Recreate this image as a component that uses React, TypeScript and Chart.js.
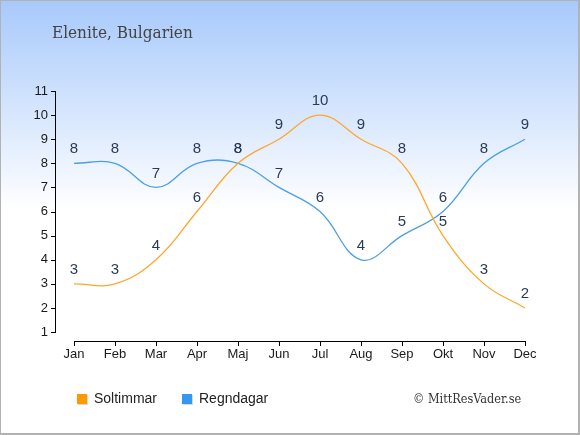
import { useEffect, useRef } from 'react';
import { Chart, registerables } from 'chart.js';

Chart.register(...registerables);

const months = ['Jan', 'Feb', 'Mar', 'Apr', 'Maj', 'Jun', 'Jul', 'Aug', 'Sep', 'Okt', 'Nov', 'Dec'];
const sunHours = [3, 3, 4, 6, 8, 9, 10, 9, 8, 5, 3, 2];
const rainDays = [8, 8, 7, 8, 8, 7, 6, 4, 5, 6, 8, 9];
const yTicks = [1, 2, 3, 4, 5, 6, 7, 8, 9, 10, 11];
const seriesNames = ['Soltimmar', 'Regndagar'];
const title = 'Elenite, Bulgarien';
const credit = '© MittResVader.se';

const SUN_LINE = '#ffa62b';
const RAIN_LINE = '#4a9fe6';
const SUN_BOX = '#ff9900';
const RAIN_BOX = '#3399ee';
const LABEL = '#2b3a55';
const SANS = 'Arial, "Liberation Sans", sans-serif';

const decor = {
  id: 'decor',
  beforeDraw(chart: Chart) {
    const { ctx, width, height } = chart;
    ctx.save();
    const g = ctx.createLinearGradient(0, 0, 0, 210);
    g.addColorStop(0, '#a7c9fb');
    g.addColorStop(1, '#ffffff');
    ctx.fillStyle = g;
    ctx.fillRect(0, 0, width, height);

    // frame
    ctx.strokeStyle = '#b2b2b2';
    ctx.lineWidth = 1;
    ctx.strokeRect(0.5, 0.5, width - 1, height - 1);
    ctx.fillStyle = '#b2b2b2';
    ctx.fillRect(width - 2, 0, 2, height);
    ctx.fillRect(0, height - 2, width, 2);

    // title
    ctx.fillStyle = '#444';
    ctx.font = "17px 'DejaVu Serif', serif";
    (ctx as any).fontStretch = 'condensed';
    ctx.textAlign = 'left';
    ctx.textBaseline = 'alphabetic';
    ctx.fillText(title, 52, 38);

    // credit
    ctx.fillStyle = '#333';
    ctx.font = "12.6px 'DejaVu Serif', serif";
    (ctx as any).fontStretch = 'condensed';
    ctx.fillText(credit, 413, 403);
    (ctx as any).fontStretch = 'normal';

    // legend
    const items = [
      { name: seriesNames[0], color: SUN_BOX, x: 77 },
      { name: seriesNames[1], color: RAIN_BOX, x: 182 },
    ];
    ctx.font = `14px ${SANS}`;
    ctx.textBaseline = 'middle';
    items.forEach(it => {
      ctx.fillStyle = '#d8d8d8';
      ctx.fillRect(it.x + 1, 395, 10, 10);
      ctx.fillStyle = it.color;
      ctx.fillRect(it.x, 394, 10, 10);
      ctx.fillStyle = '#222';
      ctx.fillText(it.name, it.x + 17, 399);
    });

    // y axis line with ticks
    const y = chart.scales.y;
    const top = Math.round(y.getPixelForValue(yTicks[yTicks.length - 1]));
    const bottom = Math.round(y.getPixelForValue(yTicks[0]));
    ctx.strokeStyle = '#000';
    ctx.lineWidth = 1;
    ctx.beginPath();
    ctx.moveTo(55.5, top);
    ctx.lineTo(55.5, bottom + 0.5);
    yTicks.forEach(v => {
      const py = Math.round(y.getPixelForValue(v)) + 0.5;
      ctx.moveTo(51, py);
      ctx.lineTo(56, py);
    });
    ctx.stroke();
    ctx.restore();
  },
  afterDatasetsDraw(chart: Chart) {
    const { ctx } = chart;
    ctx.save();
    ctx.font = `15px ${SANS}`;
    ctx.fillStyle = LABEL;
    ctx.textAlign = 'center';
    ctx.textBaseline = 'middle';
    chart.data.datasets.forEach((ds, i) => {
      const meta = chart.getDatasetMeta(i);
      meta.data.forEach((pt, j) => {
        ctx.fillText(String(ds.data[j]), pt.x, pt.y - 14);
      });
    });
    ctx.restore();
  },
};

export default function App() {
  const canvasRef = useRef<HTMLCanvasElement>(null);
  const chartRef = useRef<Chart | null>(null);

  useEffect(() => {
    if (!canvasRef.current) return;
    chartRef.current?.destroy();

    chartRef.current = new Chart(canvasRef.current, {
      type: 'line',
      data: {
        labels: months,
        datasets: [
          {
            label: seriesNames[0],
            data: sunHours,
            borderColor: SUN_LINE,
            borderWidth: 1.3,
            pointRadius: 0,
            tension: 0.4,
            fill: false,
          },
          {
            label: seriesNames[1],
            data: rainDays,
            borderColor: RAIN_LINE,
            borderWidth: 1.3,
            pointRadius: 0,
            tension: 0.4,
            fill: false,
          },
        ],
      },
      options: {
        responsive: false,
        animation: false,
        events: [],
        layout: { padding: { top: 91, right: 55, left: 0, bottom: 0 } },
        plugins: {
          legend: { display: false },
          tooltip: { enabled: false },
          title: { display: false },
        },
        scales: {
          x: {
            offset: false,
            grid: { display: true, drawOnChartArea: false, drawTicks: true, tickLength: 5, color: '#000' },
            border: { display: true, color: '#000', width: 1 },
            ticks: {
              font: { size: 13, family: SANS },
              color: '#1a1a1a',
              padding: 1,
              maxRotation: 0,
              autoSkip: false,
            },
            afterFit: (scale) => { scale.height = 94; },
          },
          y: {
            min: 0.63,
            max: 11,
            grid: { display: false, drawTicks: false },
            border: { display: false },
            ticks: {
              font: { size: 13, family: SANS },
              color: '#1a1a1a',
              padding: 26,
            },
            afterBuildTicks: (scale) => { scale.ticks = yTicks.map(v => ({ value: v })); },
            afterFit: (scale) => { scale.width = 74; },
          },
        },
      },
      plugins: [decor],
    });

    return () => { chartRef.current?.destroy(); };
  }, []);

  return (
    <div style={{ position: 'absolute', left: 0, top: 0, width: 580, height: 435 }}>
      <canvas ref={canvasRef} width={580} height={435} />
    </div>
  );
}
